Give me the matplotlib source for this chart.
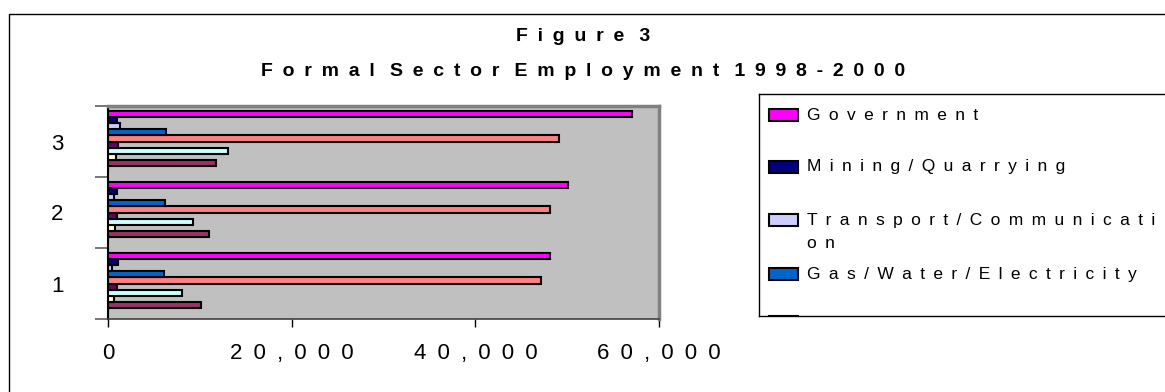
import matplotlib
matplotlib.use('Agg')
import matplotlib.pyplot as plt
from matplotlib.patches import Rectangle
import numpy as np

# categories (years shown as 1..3 on the axis)
categories = ['1', '2', '3']

# series in Excel order (series 1 sits at the bottom of each group)
series_names = ['Series 1', 'Series 2', 'Series 3', 'Series 4', 'Series 5', 'Series 6',
                'Gas/Water/Electricity', 'Transport/Communication',
                'Mining/Quarrying', 'Government']
series_colors = ['#9999FF', '#993366', '#FFFFCC', '#CCFFFF', '#660066', '#FF8080',
                 '#0066CC', '#CCCCFF', '#000080', '#FF00FF']
s1 = [0, 0, 0]
s2 = [10100, 11000, 11800]
s3 = [700, 800, 900]
s4 = [8100, 9300, 13100]
s5 = [1000, 1000, 1100]
s6 = [47200, 48100, 49100]
gas_water = [6100, 6200, 6300]
transport = [400, 700, 1300]
mining = [1100, 1000, 1000]
government = [48100, 50100, 57100]
series_values = [s1, s2, s3, s4, s5, s6, gas_water, transport, mining, government]

x_ticks = [0, 20000, 40000, 60000]
title1 = 'Figure 3'
title2 = 'Formal Sector Employment 1998-2000'
# legend entries as shown (the box is cut off after the fourth one)
legend_lines = ['Government', 'Mining/Quarrying', 'Transport/Communicati\non',
                'Gas/Water/Electricity']

EN = '\u2002'


def track(s, gap=EN):
    # the original renders every label with very wide letter spacing;
    # word breaks stay only a little wider than the letter gaps
    out = []
    for line in s.split('\n'):
        words = [gap.join(w) for w in line.split(' ')]
        out.append((gap + ' ').join(words))
    return '\n'.join(out)


plt.rcParams['font.family'] = ['Liberation Sans', 'DejaVu Sans']
W, H = 1165, 392
fig = plt.figure(figsize=(W / 100, H / 100), dpi=100)


def box(x0, y0, x1, y1):
    return [x0 / W, 1 - y1 / H, (x1 - x0) / W, (y1 - y0) / H]


# outer chart frame
fig.patches.append(Rectangle((9 / W, -0.05), 1.1, 1 - 14 / H + 0.05, transform=fig.transFigure,
                             fill=False, edgecolor='black', linewidth=1))

fig.text(583 / W, 1 - 41 / H, track(title1), ha='center', va='baseline',
         fontsize=14, fontweight='bold')
fig.text(583 / W, 1 - 76 / H, track(title2), ha='center', va='baseline',
         fontsize=14, fontweight='bold')

ax = fig.add_axes(box(108, 106, 659, 319))
ax.set_facecolor('#C0C0C0')
pos = np.arange(len(categories))
bh = 1 / 11.5
for i, (vals, col) in enumerate(zip(series_values, series_colors)):
    ax.barh(pos + (i - 4.5) * bh, vals, height=bh, color=col,
            edgecolor='black', linewidth=1.5, zorder=3)

ax.set_xlim(0, 60000)
ax.set_ylim(-0.5, 2.5)
ax.set_xticks(x_ticks)
ax.set_xticklabels([track(f'{v:,}') for v in x_ticks], fontsize=16)
ax.tick_params(axis='x', length=6, width=1, pad=11)
ax.set_yticks(pos)
ax.set_yticklabels(categories, fontsize=16)
ax.tick_params(axis='y', which='major', length=0, pad=32)
ax.set_yticks([-0.5, 0.5, 1.5, 2.5], minor=True)
ax.tick_params(axis='y', which='minor', length=9.5, width=1.2, color='#606060')
for side in ['top', 'right']:
    ax.spines[side].set_color('#808080')
    ax.spines[side].set_linewidth(2.5)
ax.spines['left'].set_color('black')
ax.spines['left'].set_linewidth(1.5)
ax.spines['bottom'].set_color('#404040')
ax.spines['bottom'].set_linewidth(1.2)

# legend box, cut off by the chart edge like the original
lax = fig.add_axes(box(759, 94, 1200, 316))
lax.set_xlim(0, 441)
lax.set_ylim(222, 0)
lax.set_xticks([])
lax.set_yticks([])
for sp in lax.spines.values():
    sp.set_linewidth(1)
    sp.set_color('black')
rows = [21, 73, 126, 180]
legend_colors = series_colors[::-1]
for y, txt, col in zip(rows, legend_lines, legend_colors):
    lax.add_patch(Rectangle((10, y - 6), 29, 12, facecolor=col, edgecolor='black',
                            linewidth=1.5, clip_on=True))
    lax.text(48, y - 7.5, track(txt, ' \u2009'), ha='left', va='top', fontsize=12.5,
             linespacing=1.75, clip_on=True)
# fifth key: only its top edge shows above the bottom of the box
lax.add_patch(Rectangle((10, 221.5), 29, 12, facecolor=legend_colors[4], edgecolor='black',
                        linewidth=1.5, clip_on=True))

fig.savefig('out.png', dpi=100)
